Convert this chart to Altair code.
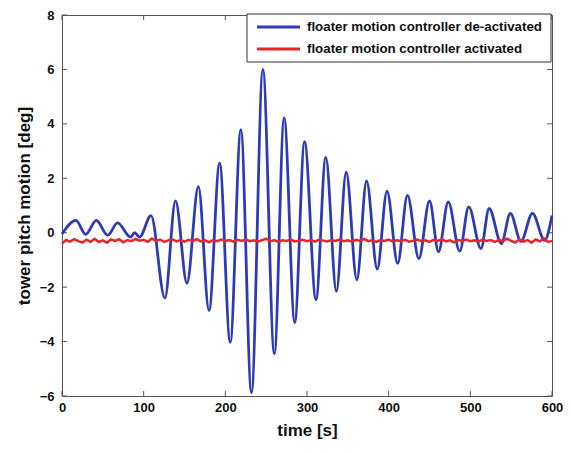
import altair as alt
import pandas as pd

series_names = ["floater motion controller de-activated", "floater motion controller activated"]
series_colors = ["#2e3bb3", "#e8252b"]

blue_t = [0, 17, 29, 42, 56, 68, 84, 89, 95, 109, 126, 139, 153, 167, 180, 193,
          206, 219, 232, 246, 260, 272, 285, 297, 311, 323, 336, 348, 361, 373,
          386, 398, 411, 423, 437, 450, 461, 473, 487, 498, 513, 523, 538, 549,
          562, 576, 591, 600]
blue_y = [-0.05, 0.45, -0.06, 0.45, -0.09, 0.36, -0.16, 0.0, -0.16, 0.63, -2.40, 1.17,
          -1.85, 1.69, -2.86, 2.56, -4.03, 3.79, -5.88, 6.0, -4.45, 4.22, -3.30, 3.35,
          -2.46, 2.77, -2.15, 2.23, -1.73, 1.90, -1.34, 1.53, -1.13, 1.37, -0.95, 1.17,
          -0.70, 1.13, -0.68, 0.95, -0.58, 0.89, -0.40, 0.71, -0.32, 0.71, -0.28, 0.63]

red_t = list(range(0, 601, 5))
red_y = [-0.40, -0.27, -0.33, -0.24, -0.31, -0.36, -0.26, -0.33, -0.22, -0.34,
         -0.28, -0.37, -0.25, -0.30, -0.24, -0.35, -0.27, -0.31, -0.23, -0.29,
         -0.26, -0.33, -0.21, -0.30, -0.25, -0.34, -0.28, -0.24, -0.32, -0.27,
         -0.33, -0.26, -0.30, -0.24, -0.32, -0.28, -0.35, -0.27, -0.31, -0.25,
         -0.30, -0.27, -0.33, -0.26, -0.30, -0.24, -0.31, -0.28, -0.33, -0.27,
         -0.22, -0.32, -0.27, -0.34, -0.28, -0.30, -0.25, -0.32, -0.29, -0.26,
         -0.31, -0.27, -0.33, -0.25, -0.29, -0.32, -0.27, -0.30, -0.24, -0.31,
         -0.28, -0.33, -0.26, -0.30, -0.23, -0.31, -0.28, -0.34, -0.27, -0.30,
         -0.25, -0.32, -0.28, -0.30, -0.26, -0.33, -0.29, -0.25, -0.31, -0.28,
         -0.34, -0.26, -0.30, -0.24, -0.32, -0.28, -0.35, -0.27, -0.30, -0.25,
         -0.31, -0.28, -0.33, -0.25, -0.30, -0.27, -0.34, -0.26, -0.31, -0.22,
         -0.30, -0.36, -0.24, -0.33, -0.27, -0.37, -0.25, -0.32, -0.21, -0.34,
         -0.30]

x_ticks = [0, 100, 200, 300, 400, 500, 600]
y_ticks = [-6, -4, -2, 0, 2, 4, 6, 8]

W, H = 490, 381
FONT = "Liberation Sans"

blue_df = pd.DataFrame({"t": blue_t, "y": blue_y, "s": series_names[0]})
red_df = pd.DataFrame({"t": red_t, "y": red_y, "s": series_names[1]})

xscale = alt.Scale(domain=[0, 600], nice=False, zero=False)
yscale = alt.Scale(domain=[-6, 8], nice=False, zero=False)

x_enc = alt.X("t:Q", scale=xscale, axis=alt.Axis(
    title="time [s]", values=x_ticks, ticks=False, domain=False, grid=False,
    labelFlush=False, labelOverlap=False,
    labelPadding=5, titlePadding=8, format="d"))
y_enc = alt.Y("y:Q", scale=yscale, axis=alt.Axis(
    title="tower pitch motion [deg]", values=y_ticks, ticks=False, domain=False,
    labelFlush=False, labelOverlap=False,
    grid=False, labelPadding=8, titlePadding=6, format="d"))

blue = alt.Chart(blue_df).mark_line(
    color=series_colors[0], strokeWidth=2.8, interpolate="monotone"
).encode(x=x_enc, y=y_enc)

red = alt.Chart(red_df).mark_line(
    color=series_colors[1], strokeWidth=2.5
).encode(x=x_enc, y=y_enc)

xt = pd.DataFrame({"t": x_ticks})
yt = pd.DataFrame({"y": y_ticks})
tick_color = "#555555"
bottom_ticks = alt.Chart(xt).mark_rule(color=tick_color).encode(
    x=x_enc, y=alt.value(H), y2=alt.value(H - 5))
top_ticks = alt.Chart(xt).mark_rule(color=tick_color).encode(
    x=x_enc, y=alt.value(0), y2=alt.value(5))
left_ticks = alt.Chart(yt).mark_rule(color=tick_color).encode(
    y=y_enc, x=alt.value(0), x2=alt.value(5))
right_ticks = alt.Chart(yt).mark_rule(color=tick_color).encode(
    y=y_enc, x=alt.value(W), x2=alt.value(W - 5))

leg_df = pd.DataFrame({"name": series_names, "color": series_colors})
leg_box = alt.Chart(leg_df.iloc[[0]]).mark_rect(
    fill="white", stroke="#333333", strokeWidth=1
).encode(x=alt.value(185), x2=alt.value(489), y=alt.value(-1), y2=alt.value(47))

leg_layers = []
for i, yy in enumerate([12, 34]):
    sub = leg_df.iloc[[i]]
    leg_layers.append(alt.Chart(sub).mark_rule(color=series_colors[i], strokeWidth=2.8).encode(
        x=alt.value(195), x2=alt.value(238), y=alt.value(yy)))
    leg_layers.append(alt.Chart(sub).mark_text(
        align="left", baseline="middle", font=FONT, fontSize=13.3, fontWeight="bold", color="#111111"
    ).encode(x=alt.value(245), y=alt.value(yy), text="name:N"))

chart = alt.layer(
    bottom_ticks, top_ticks, left_ticks, right_ticks, blue, red, leg_box, *leg_layers
).properties(
    width=W, height=H,
    background="white",
    autosize=alt.AutoSizeParams(type="none"),
    padding={"left": 54, "top": 7, "right": 11, "bottom": 48},
).configure_view(
    stroke="#555555", strokeWidth=1
).configure_axis(
    labelFont=FONT, labelFontSize=13, labelFontWeight="bold", labelColor="#111111",
    titleFont=FONT, titleFontSize=17, titleFontWeight="bold", titleColor="#111111",
)

chart.save("out.html", embed_options={"renderer": "svg", "actions": False})
